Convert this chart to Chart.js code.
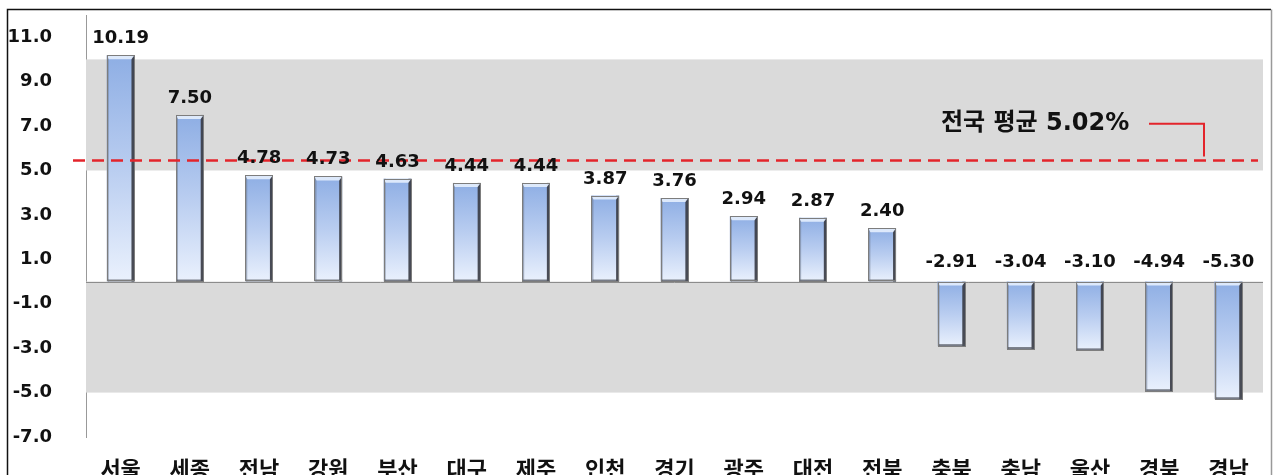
<!DOCTYPE html>
<html>
<head>
<meta charset="utf-8">
<script src="https://cdn.jsdelivr.net/npm/chart.js@4/dist/chart.umd.min.js"></script>
<style>
  html, body { margin: 0; padding: 0; background: #fff; overflow: hidden; height: 475px; }
  #wrap { width: 1276px; height: 500px; }
</style>
</head>
<body>
<div id="wrap"><canvas id="chart" width="1276" height="500"></canvas></div>
<script>
// DATA
const regions = ['서울', '세종', '전남', '강원', '부산', '대구', '제주', '인천', '경기', '광주', '대전', '전북', '충북', '충남', '울산', '경북', '경남'];
const changes = [10.19, 7.50, 4.78, 4.73, 4.63, 4.44, 4.44, 3.87, 3.76, 2.94, 2.87, 2.40, -2.91, -3.04, -3.10, -4.94, -5.30];
const yTicks = [-7, -5, -3, -1, 1, 3, 5, 7, 9, 11];
const bands = [[5, 10], [-5, 0]];
const avgLineValue = 5.45;
const avgText = '전국 평균 5.02%';

const numFont = 'bold 18px "DejaVu Sans", Verdana, sans-serif';

// background, frame, gray bands and zero line
const backdrop = {
    id: 'backdrop',
    beforeDraw(chart) {
        const c = chart.ctx;
        c.save();
        c.fillStyle = '#fff';
        c.fillRect(0, 0, chart.width, chart.height);
        c.strokeStyle = '#111';
        c.lineWidth = 1.5;
        c.beginPath();
        c.moveTo(7.5, chart.height);
        c.lineTo(7.5, 9.5);
        c.lineTo(1271, 9.5);
        c.stroke();
        c.strokeStyle = '#999';
        c.beginPath();
        c.moveTo(1271.5, 9.5);
        c.lineTo(1271.5, chart.height);
        c.stroke();
        c.restore();
    },
    beforeDatasetsDraw(chart) {
        const c = chart.ctx;
        const y = chart.scales.y;
        const area = chart.chartArea;
        c.save();
        c.fillStyle = '#dadada';
        bands.forEach(b => {
            const top = y.getPixelForValue(b[1]);
            const bot = y.getPixelForValue(b[0]);
            c.fillRect(area.left, top, area.right - area.left, bot - top);
        });
        const zero = Math.round(y.getPixelForValue(0)) + 0.5;
        c.strokeStyle = '#8c8c8c';
        c.lineWidth = 1;
        c.beginPath();
        c.moveTo(area.left, zero);
        c.lineTo(area.right, zero);
        c.stroke();
        c.restore();
    }
};

// bevel on bars, average line, value labels, note
const overlay = {
    id: 'overlay',
    afterDatasetsDraw(chart) {
        const c = chart.ctx;
        const y = chart.scales.y;
        const area = chart.chartArea;
        const meta = chart.getDatasetMeta(0);

        c.save();
        meta.data.forEach(el => {
            const p = el.getProps(['x', 'y', 'base', 'width'], true);
            const left = p.x - p.width / 2;
            const right = p.x + p.width / 2;
            const top = Math.min(p.y, p.base);
            const bot = Math.max(p.y, p.base);
            const h = bot - top;
            // left edge
            c.fillStyle = 'rgba(110,120,140,0.55)';
            c.fillRect(left, top, 2, h);
            // right shadow
            c.fillStyle = 'rgba(55,58,66,0.9)';
            c.fillRect(right - 3, top, 3, h);
            // top cap
            c.fillStyle = 'rgba(225,236,252,0.95)';
            c.beginPath();
            c.moveTo(left, top);
            c.lineTo(right, top);
            c.lineTo(right - 3, top + 4);
            c.lineTo(left + 2, top + 4);
            c.closePath();
            c.fill();
            // bottom edge
            c.fillStyle = 'rgba(80,84,95,0.75)';
            c.fillRect(left + 1, bot - 2, p.width - 1, 2);
            c.strokeStyle = '#7d7d7d';
            c.lineWidth = 1;
            c.strokeRect(Math.round(left) + 0.5, Math.round(top) + 0.5, Math.round(p.width) - 1, Math.round(h) - 1);
        });

        // average dashed line
        const ay = y.getPixelForValue(avgLineValue);
        c.strokeStyle = '#e3242b';
        c.lineWidth = 2.5;
        c.setLineDash([12, 7]);
        c.beginPath();
        c.moveTo(area.left - 13, ay);
        c.lineTo(area.right - 5, ay);
        c.stroke();
        c.setLineDash([]);

        // note with connector
        const ny = y.getPixelForValue(7.1);
        c.font = 'bold 24px "DejaVu Sans", "Noto Sans CJK KR", sans-serif';
        c.fillStyle = '#111';
        c.textAlign = 'left';
        c.textBaseline = 'middle';
        c.fillText(avgText, 941, ny);
        c.strokeStyle = '#e3242b';
        c.lineWidth = 2;
        c.beginPath();
        c.moveTo(1149, ny);
        c.lineTo(1204, ny);
        c.lineTo(1204, ay - 4);
        c.stroke();

        // value labels
        c.font = numFont;
        c.fillStyle = '#111';
        c.textAlign = 'center';
        c.textBaseline = 'alphabetic';
        meta.data.forEach((el, i) => {
            const p = el.getProps(['x', 'y', 'base'], true);
            const top = Math.min(p.y, p.base);
            const gap = changes[i] < 0 ? 15 : 12;
            c.fillText(changes[i].toFixed(2), p.x, top - gap);
        });
        c.restore();
    }
};

function barGradient(ctx) {
    const chart = ctx.chart;
    if (!chart.chartArea) return '#9bbbec';
    const y = chart.scales.y;
    const v = changes[ctx.dataIndex];
    const top = y.getPixelForValue(Math.max(v, 0));
    const bot = y.getPixelForValue(Math.min(v, 0));
    const g = chart.ctx.createLinearGradient(0, top, 0, bot);
    g.addColorStop(0, '#8eaee4');
    g.addColorStop(0.5, '#b9cdf0');
    g.addColorStop(1, '#eaf1fd');
    return g;
}

new Chart(document.getElementById('chart'), {
    type: 'bar',
    data: {
        labels: regions,
        datasets: [{
            data: changes,
            backgroundColor: barGradient,
            borderWidth: 0,
            barPercentage: 0.4,
            categoryPercentage: 1.0
        }]
    },
    options: {
        responsive: false,
        animation: false,
        layout: { padding: { top: 15, right: 13, bottom: 0, left: 0 } },
        plugins: {
            legend: { display: false },
            tooltip: { enabled: false }
        },
        scales: {
            x: {
                grid: { display: false, drawTicks: false },
                border: { display: false },
                ticks: {
                    color: '#111',
                    padding: 18,
                    maxRotation: 0,
                    font: { family: '"Noto Sans CJK KR", sans-serif', size: 22, weight: 'bold' }
                },
                afterFit(scale) { scale.height = 63; }
            },
            y: {
                min: -7,
                max: 12,
                grid: { display: false, drawTicks: true, tickLength: 32 },
                border: { display: true, color: '#999', width: 1 },
                afterBuildTicks(scale) {
                    scale.ticks = yTicks.map(v => ({ value: v }));
                },
                afterFit(scale) { scale.width = 86; },
                ticks: {
                    color: '#111',
                    padding: 2,
                    callback: v => v.toFixed(1),
                    font: { family: '"DejaVu Sans", Verdana, sans-serif', size: 18, weight: 'bold' }
                }
            }
        }
    },
    plugins: [backdrop, overlay]
});
</script>
</body>
</html>
